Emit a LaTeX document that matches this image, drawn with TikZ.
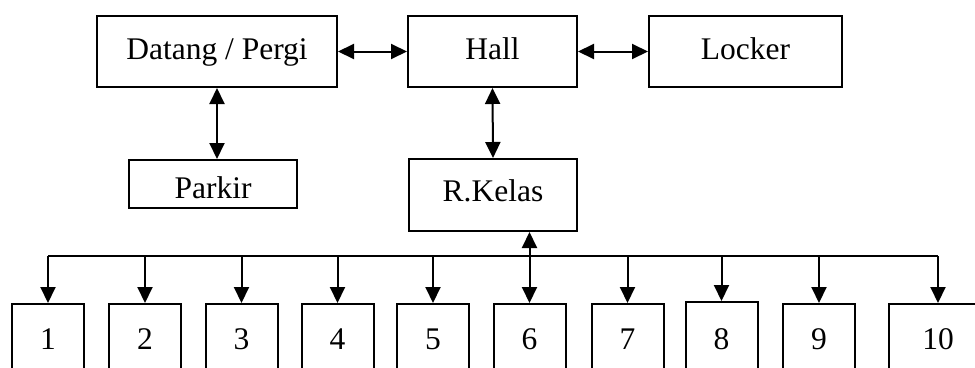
\documentclass[tikz,border=0pt]{standalone}
\usepackage{fontspec}
\setmainfont{Liberation Serif}
\usetikzlibrary{arrows.meta}
\begin{document}
\begin{tikzpicture}[x=1pt,y=-1pt,
  every node/.style={font=\fontsize{31.5}{36}\selectfont},
  topbox/.style={draw,line width=2pt,inner sep=0pt,text height=22pt,text depth=7pt},
  numbox/.style={draw,line width=2pt,inner sep=0pt,anchor=north,minimum width=72pt,text height=45pt,text depth=52pt},
  conn/.style={line width=2pt},
  arr/.style={conn,-{Triangle[length=16pt,width=15pt]}},
  darr/.style={conn,{Triangle[length=16pt,width=15pt]}-{Triangle[length=16pt,width=15pt]}}]
\useasboundingbox (0,0) rectangle (975,367);
\node[topbox,minimum width=240pt,minimum height=71pt] (dp) at (217,51.5) {Datang / Pergi};
\node[topbox,minimum width=169pt,minimum height=71pt] (hall) at (492.5,51.5) {Hall};
\node[topbox,minimum width=193pt,minimum height=71pt] (lock) at (745.5,51.5) {Locker};
\node[topbox,minimum width=168pt,minimum height=48pt,text height=29pt,text depth=1pt] (park) at (213,184) {Parkir};
\node[topbox,minimum width=168pt,minimum height=72pt,text height=22pt,text depth=10pt] (rk) at (493,195) {R.Kelas};
\node[numbox] (n1) at (48,303) {1};
\node[numbox] (n2) at (145,303) {2};
\node[numbox] (n3) at (241.5,303) {3};
\node[numbox] (n4) at (337.5,303) {4};
\node[numbox] (n5) at (433,303) {5};
\node[numbox] (n6) at (529.5,303) {6};
\node[numbox] (n7) at (627.5,303) {7};
\node[numbox,text height=47pt] (n8) at (721.5,301) {8};
\node[numbox] (n9) at (819,303) {9};
\node[numbox,minimum width=98pt] (n10) at (938,303) {10};
\coordinate (bus) at (0,256);
\draw[darr] (dp.east) -- (hall.west);
\draw[darr] (hall.east) -- (lock.west);
\draw[darr] (dp.south) -- (dp.south |- park.north);
\draw[darr] (hall.south) -- (rk.north);
\draw[conn] (n1.north |- bus) -- (n10.north |- bus);
\foreach \n in {n1,n2,n3,n4,n5,n7,n8,n9,n10}
  \draw[arr] (\n.north |- bus) -- (\n.north);
\draw[darr] (n6.north) -- (n6.north |- rk.south);
\end{tikzpicture}
\end{document}
